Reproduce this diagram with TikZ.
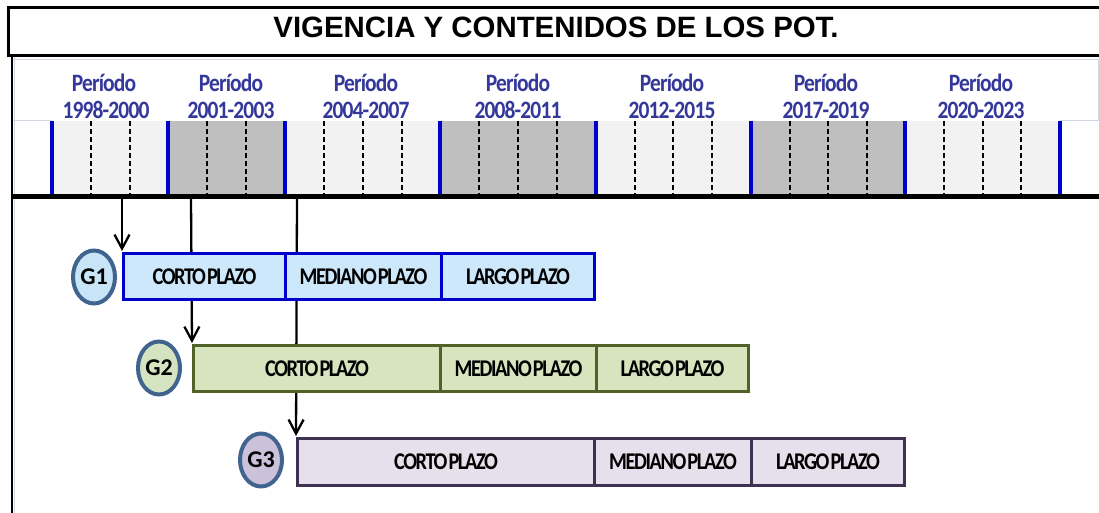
\documentclass[tikz,border=0pt]{standalone}
\usepackage{fontspec}
\setmainfont{Carlito}
\newfontfamily\titlefont{Liberation Sans}
\newfontfamily\boxfont{Carlito}[LetterSpace=-7, WordSpace=0.35]
\newfontfamily\perfont{Carlito}[LetterSpace=-4]
\usetikzlibrary{arrows.meta,shapes.geometric}
\pgfdeclarelayer{back}
\pgfdeclarelayer{bg}
\pgfsetlayers{back,bg,main}
\definecolor{perblue}{HTML}{34389A}
\definecolor{lgray}{HTML}{F2F2F2}
\definecolor{dgray}{HTML}{BFBFBF}
\definecolor{tblue}{HTML}{0000CC}
\definecolor{grid}{HTML}{D0D8E4}
\definecolor{gonefill}{HTML}{CCE8FA}
\definecolor{gtwofill}{HTML}{D7E4BD}
\definecolor{gtwoline}{HTML}{4F6228}
\definecolor{gthreefill}{HTML}{E5E0EC}
\definecolor{gthreeline}{HTML}{3F3151}
\definecolor{circline}{HTML}{41648F}
\definecolor{circone}{HTML}{C8E4F7}
\definecolor{circtwo}{HTML}{D5E3C0}
\definecolor{circthree}{HTML}{CCC1DA}
\newcommand\pertext[1]{\scalebox{0.86}[1]{\fontsize{25}{25}\selectfont\perfont\bfseries #1}}
\newcommand\boxtext[1]{\scalebox{0.85}[1]{\fontsize{24}{24}\selectfont\boxfont\bfseries #1}}
\tikzset{
  per/.style={anchor=base, text=perblue, inner sep=0pt},
  blueline/.style={tblue, line width=4pt},
  dashline/.style={black, line width=1.6pt, dash pattern=on 5pt off 3pt},
  pbox/.style={rectangle, anchor=north west, inner sep=0pt, line width=3pt, minimum height=46pt},
  onebox/.style={pbox, draw=tblue, fill=gonefill},
  twobox/.style={pbox, draw=gtwoline, fill=gtwofill},
  threebox/.style={pbox, draw=gthreeline, fill=gthreefill},
  gcirc/.style={ellipse, draw=circline, line width=4pt, minimum width=42pt, minimum height=53pt, inner sep=0pt, font=\fontsize{24}{24}\selectfont\bfseries},
  arr/.style={line width=2.3pt, -{Straight Barb[length=14pt,width=15pt]}, shorten >=1pt},
}
\begin{document}
\begin{tikzpicture}[x=1pt,y=-1pt]
\useasboundingbox (0,0) rectangle (1099,513);
\begin{pgfonlayer}{back}
\fill[white] (0,0) rectangle (1099,513);
\end{pgfonlayer}
% title box
\draw[line width=3pt] (8.5,7.5) rectangle (1105,56);
\node[anchor=base, inner sep=0pt] (title) at (556,37.5) {\fontsize{29.4}{30}\selectfont\titlefont\bfseries VIGENCIA Y CONTENIDOS DE LOS POT.};
% faint grid
\draw[grid, line width=1pt] (12,60) -- (1098,60) -- (1098,121);
\draw[grid, line width=1pt] (12,121) -- (52,121);
\draw[grid, line width=1pt] (1060,121) -- (1098,121);
\draw[grid, line width=1pt] (14,57) -- (14,513);
% left frame line
\draw[black, line width=2pt] (11.5,56) -- (11.5,513);
% cells
\fill[lgray] (52,121) rectangle (168,194);
\fill[dgray] (168,121) rectangle (285,194);
\fill[lgray] (285,121) rectangle (440,194);
\fill[dgray] (440,121) rectangle (596,194);
\fill[lgray] (596,121) rectangle (751,194);
\fill[dgray] (751,121) rectangle (905,194);
\fill[lgray] (905,121) rectangle (1060,194);
% dashed year lines
\foreach \x in {91,130,207,246,324,363,402,479,518,557,635,673,712,790,828,867,944,983,1021}
  \draw[dashline] (\x,121) -- (\x,194);
% blue period lines
\foreach \x in {52,168,285,440,596,751,905,1060}
  \draw[blueline] (\x,121) -- (\x,194);
% period labels
\node[per] (p1a) at (104,92) {\pertext{Período}};
\node[per] (p1b) at (106,119) {\pertext{1998-2000}};
\node[per] (p2a) at (231,92) {\pertext{Período}};
\node[per] (p2b) at (231,119) {\pertext{2001-2003}};
\node[per] (p3a) at (366,92) {\pertext{Período}};
\node[per] (p3b) at (366,119) {\pertext{2004-2007}};
\node[per] (p4a) at (518,92) {\pertext{Período}};
\node[per] (p4b) at (518,119) {\pertext{2008-2011}};
\node[per] (p5a) at (672,92) {\pertext{Período}};
\node[per] (p5b) at (672,119) {\pertext{2012-2015}};
\node[per] (p6a) at (826,92) {\pertext{Período}};
\node[per] (p6b) at (826,119) {\pertext{2017-2019}};
\node[per] (p7a) at (981,92) {\pertext{Período}};
\node[per] (p7b) at (981,119) {\pertext{2020-2023}};
% timeline thick line
\draw[line width=4.5pt] (11,196.5) -- (1099,196.5);
% start coordinates on the timeline
\coordinate (t1) at (122,199);
\coordinate (t2) at (191,199);
\coordinate (t3) at (297,199);
% G1
\node[onebox, minimum width=162pt] (g1c) at (122,252) {\boxtext{CORTO PLAZO}};
\node[onebox, minimum width=156pt] (g1m) at (284,252) {\boxtext{MEDIANO PLAZO}};
\node[onebox, minimum width=153pt] (g1l) at (440,252) {\boxtext{LARGO PLAZO}};
\node[gcirc, fill=circone] (g1) at (94,277) {G1};
% G2
\node[twobox, minimum width=247pt] (g2c) at (192,344) {\boxtext{CORTO PLAZO}};
\node[twobox, minimum width=156pt] (g2m) at (439,344) {\boxtext{MEDIANO PLAZO}};
\node[twobox, minimum width=152pt] (g2l) at (595,344) {\boxtext{LARGO PLAZO}};
\node[gcirc, fill=circtwo] (g2) at (159,368) {G2};
% G3
\node[threebox, minimum width=297pt, minimum height=47pt] (g3c) at (296,437) {\boxtext{CORTO PLAZO}};
\node[threebox, minimum width=157pt, minimum height=47pt] (g3m) at (593,437) {\boxtext{MEDIANO PLAZO}};
\node[threebox, minimum width=153pt, minimum height=47pt] (g3l) at (750,437) {\boxtext{LARGO PLAZO}};
\node[gcirc, fill=circthree] (g3) at (261,460) {G3};
% connectors (behind the boxes)
\begin{pgfonlayer}{bg}
\draw[arr] (t1) -- (g1c.north west);
\draw[arr] (t2) -- (g2c.north west);
\draw[arr] (t3) -- (g3c.north west);
\end{pgfonlayer}
\end{tikzpicture}
\end{document}
